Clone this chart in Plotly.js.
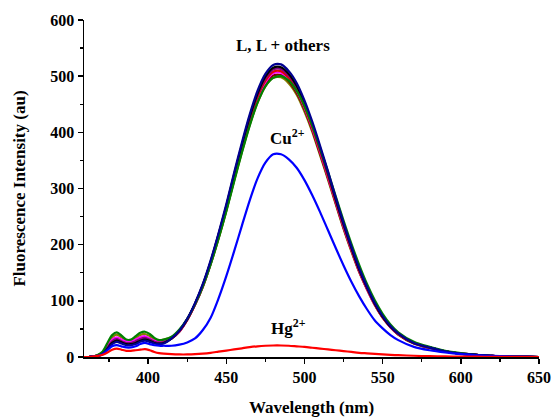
<!DOCTYPE html>
<html>
<head>
<meta charset="utf-8">
<script src="https://cdn.plot.ly/plotly-3.0.1.min.js"></script>
<style>html,body{margin:0;padding:0;background:#fff;}#chart{width:553px;height:417px;}</style>
</head>
<body>
<div id="chart"></div>
<script>
// Wavelength grid (nm)
const wavelength = [359,362,365,368,371,374,377,380,383,386,389,392,395,398,401,404,407,410,
  415,420,425,430,435,440,445,450,455,460,465,470,475,480,485,490,495,500,505,510,
  515,520,525,530,535,540,545,550,555,560,570,580,590,600,610,620,630,640,650];

// L and L + other ions
const L_navy    = [0,0,1,2,6,14,23,27,24,21,21,23,27,29,27,24,23,24,
  33,47,68,96,130,172,220,272,328,382,432,474,504,520,521,509,488,457,419,376,
  331,284,239,197,158,125,96,73,55,42,25,17,10,6,4,2,1,0.5,0];
const L_black   = [0,0,1,2,6,15,25,29,26,23,23,25,29,31,29,25,24,25,
  33,47,67,95,129,170,218,269,325,378,428,469,499,515,516,504,483,452,415,372,
  328,281,237,195,156,124,95,72,54,42,25,17,10,6,4,2,1,0.5,0];
const L_purple  = [0,0,1,3,7,17,28,32,28,25,25,28,32,34,31,27,25,26,
  33,46,67,95,128,169,217,268,323,376,426,467,496,512,513,501,481,450,413,370,
  326,280,235,194,156,123,95,72,54,41,25,17,10,6,4,2,1,0.5,0];
const L_red     = [0,0,1,3,7,16,27,31,27,24,24,27,31,33,30,26,25,26,
  33,46,66,94,127,168,215,266,320,373,422,463,492,508,509,497,477,446,409,367,
  323,277,234,192,154,122,94,71,54,41,25,17,10,6,4,2,1,0.5,0];
const L_magenta = [0,0,1,3,8,19,31,35,31,28,28,31,35,37,33,29,27,28,
  34,46,66,93,126,167,214,264,318,371,419,460,489,505,506,494,474,444,407,365,
  321,276,232,191,153,121,93,71,53,41,25,17,10,6,4,2,1,0.5,0];
const L_brown   = [0,0,1,3,7,18,29,33,29,26,26,29,33,35,32,28,26,27,
  33,45,66,93,125,166,212,262,316,368,416,457,486,501,502,491,470,441,404,362,
  319,274,230,190,152,121,93,70,53,40,24,16,10,6,4,2,1,0.5,0];
const L_olive   = [0,0,1,3,9,22,35,40,35,30,30,34,39,41,37,32,30,31,
  35,47,67,93,125,165,210,260,314,365,413,453,482,497,498,487,467,437,401,359,
  316,272,228,188,151,120,92,70,53,40,24,16,10,6,4,2,1,0.5,0];
const L_green   = [0,0,1,4,10,25,39,44,38,31,31,37,43,45,41,34,30,31,
  36,49,68,94,126,165,210,259,312,364,412,453,482,497,500,492,474,447,412,372,
  330,286,243,202,164,130,101,77,58,44,27,18,11,7,4,2,1,0.5,0];

// L + Cu2+ and L + Hg2+
const Cu = [0,0,1,2,5,12,19,21,19,17,17,19,23,25,23,21,20,20,
  20,22,26,33,48,70,104,144,188,234,279,318,346,361,361,352,337,315,288,258,
  226,194,163,134,108,85,65,51,39,30,18,12,8,5,3,2,1,0.5,0];
const Hg = [0,0,1,2,4,8,13,15,13,11,11,12,13,14,12,9,7,6,
  5,4.5,4.5,5,6,7.5,9.5,11.5,13.5,15.5,17.5,19,20,20.5,20.5,20,19,18,16.5,15,
  13.5,12,10.5,9,7.5,6.5,5.5,4.5,3.8,3.2,2.2,1.5,1,0.8,0.5,0.3,0.2,0.1,0];

const xTicks = [400,450,500,550,600,650];
const yTicks = [0,100,200,300,400,500,600];

const series = [
  {y: L_olive,   color: '#808000'},
  {y: L_brown,   color: '#800000'},
  {y: L_magenta, color: '#ff00ff'},
  {y: L_red,     color: '#e00000'},
  {y: L_purple,  color: '#800080'},
  {y: L_black,   color: '#000000'},
  {y: L_green,   color: '#008000'},
  {y: L_navy,    color: '#000090'},
  {y: Cu,        color: '#0000ff'},
  {y: Hg,        color: '#ff0000'}
];

const traces = series.map(s => ({
  x: wavelength, y: s.y, type: 'scatter', mode: 'lines',
  line: {color: s.color, width: 2.2, shape: 'spline', smoothing: 0.8},
  hoverinfo: 'skip', showlegend: false
}));

const F = 'Liberation Serif, Times New Roman, serif';
const layout = {
  width: 553, height: 417,
  margin: {l: 84, r: 14, t: 20, b: 60},
  paper_bgcolor: '#fff', plot_bgcolor: '#fff',
  showlegend: false,
  xaxis: {
    range: [359, 650], tickvals: xTicks, ticktext: xTicks.map(String),
    showgrid: false, zeroline: false, showline: true, linecolor: '#000', linewidth: 1.5,
    ticks: 'outside', ticklen: 5, tickwidth: 1.5, tickcolor: '#000',
    minor: {ticks: 'outside', ticklen: 3, tickwidth: 1.2, tickcolor: '#000', dtick: 25, tick0: 375, showgrid: false},
    tickfont: {family: F, size: 16, color: '#000', weight: 'bold'},
    title: {text: 'Wavelength (nm)', font: {family: F, size: 17, color: '#000', weight: 'bold'}, standoff: 16},
    automargin: false
  },
  yaxis: {
    range: [0, 600], tickvals: yTicks, ticktext: yTicks.map(String),
    showgrid: false, zeroline: false, showline: true, linecolor: '#000', linewidth: 1.5,
    ticks: 'outside', ticklen: 5, tickwidth: 1.5, tickcolor: '#000',
    minor: {ticks: 'outside', ticklen: 3, tickwidth: 1.2, tickcolor: '#000', dtick: 50, tick0: 0, showgrid: false},
    tickfont: {family: F, size: 16, color: '#000', weight: 'bold'},
    title: {text: 'Fluorescence Intensity (au)', font: {family: F, size: 17, color: '#000', weight: 'bold'}, standoff: 20},
    automargin: false
  },
  annotations: [
    {x: 486.5, y: 554, xref: 'x', yref: 'y', text: 'L, L + others', showarrow: false,
     font: {family: F, size: 17, color: '#000', weight: 'bold'}},
    {x: 489, y: 392, xref: 'x', yref: 'y', text: 'Cu<sup>2+</sup>', showarrow: false,
     font: {family: F, size: 17, color: '#000', weight: 'bold'}},
    {x: 489.5, y: 53, xref: 'x', yref: 'y', text: 'Hg<sup>2+</sup>', showarrow: false,
     font: {family: F, size: 17, color: '#000', weight: 'bold'}}
  ]
};

Plotly.newPlot('chart', traces, layout, {staticPlot: true, displayModeBar: false});
</script>
</body>
</html>
